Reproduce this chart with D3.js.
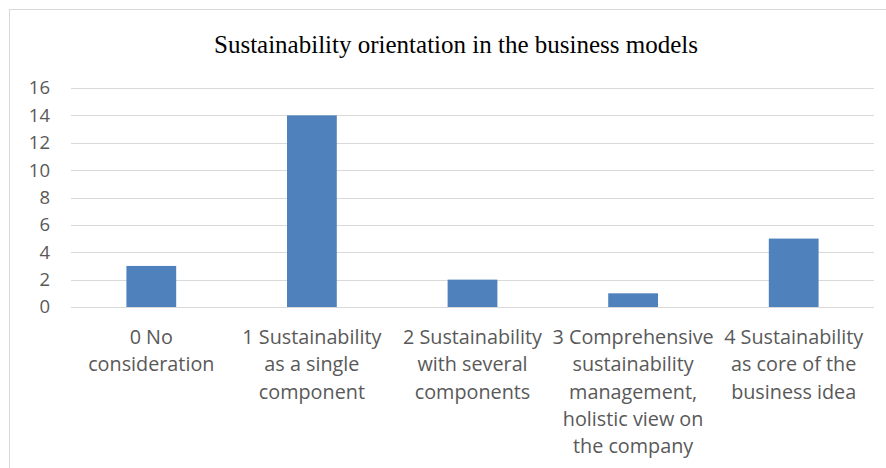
<!DOCTYPE html>
<html><head><meta charset="utf-8">
<script src="https://cdn.jsdelivr.net/npm/d3@7"></script>
<style>body{margin:0;background:#fff}svg{display:block}</style>
</head><body>
<script>
const categories = [
  ["0 No", "consideration"],
  ["1 Sustainability", "as a single", "component"],
  ["2 Sustainability", "with several", "components"],
  ["3 Comprehensive", "sustainability", "management,", "holistic view on", "the company"],
  ["4 Sustainability", "as core of the", "business idea"]
];
const values = [3, 14, 2, 1, 5];
const yTicks = [0, 2, 4, 6, 8, 10, 12, 14, 16];
const title = "Sustainability orientation in the business models";

const W = 886, H = 468;
const svg = d3.select("body").append("svg").attr("width", W).attr("height", H);
svg.append("rect").attr("x", 9.5).attr("y", 9.5).attr("width", W).attr("height", H)
  .attr("fill", "#fff").attr("stroke", "#d9d9d9").attr("stroke-width", 1);

const m = {left: 71, right: 874, top: 88, bottom: 307};
const x = d3.scaleBand().domain(d3.range(values.length)).range([m.left, m.right]).paddingInner(0.69).paddingOuter(0.345);
const y = d3.scaleLinear().domain([0, 16]).range([m.bottom, m.top]);

svg.append("text").attr("x", 456).attr("y", 53).attr("text-anchor", "middle")
  .attr("font-family", "'Liberation Serif','Times New Roman',serif").attr("font-size", 25)
  .attr("fill", "#000").text(title);

const grid = svg.append("g");
grid.selectAll("line").data(yTicks).join("line")
  .attr("x1", m.left).attr("x2", m.right)
  .attr("y1", d => Math.round(y(d)) + 0.5).attr("y2", d => Math.round(y(d)) + 0.5)
  .attr("stroke", "#d9d9d9").attr("stroke-width", 1);

const yAxis = d3.axisLeft(y).tickValues(yTicks).tickSize(0).tickPadding(0);
const ya = svg.append("g").attr("transform", `translate(50,0)`).call(yAxis);
ya.select(".domain").remove();
ya.selectAll("text").attr("font-family", "'Open Sans','Liberation Sans',sans-serif")
  .attr("font-size", 18.5).attr("fill", "#595959");

svg.append("g").selectAll("rect").data(values).join("rect")
  .attr("x", (d, i) => x(i)).attr("width", x.bandwidth())
  .attr("y", d => y(d)).attr("height", d => y(0) - y(d))
  .attr("fill", "#4f81bd");

const xl = svg.append("g");
categories.forEach((lines, i) => {
  const t = xl.append("text").attr("text-anchor", "middle")
    .attr("font-family", "'Open Sans','Liberation Sans',sans-serif").attr("font-size", 19.8)
    .attr("fill", "#595959");
  lines.forEach((s, j) => {
    t.append("tspan").attr("x", x(i) + x.bandwidth() / 2).attr("y", 344 + j * 27.3).text(s);
  });
});
</script>
</body></html>
